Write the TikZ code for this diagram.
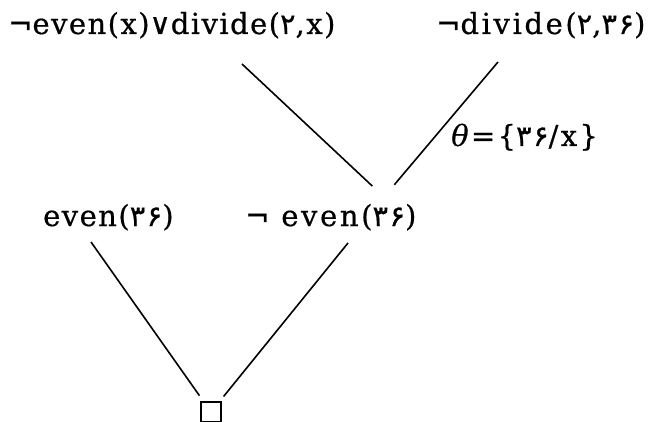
\documentclass[tikz,border=0pt]{standalone}
\usepackage{fontspec}
\setmainfont{DejaVu Serif}[LetterSpace=5, FakeBold=0.6]
\newfontfamily\fanum{DejaVu Sans}[LetterSpace=5, FakeBold=0.6]
\usetikzlibrary{calc}
\newcommand{\fa}[1]{{\fanum #1}}
\newcommand{\nt}{{\fanum ¬}}
\newcommand{\ors}{{\fanum ∨}}

\begin{document}
\begin{tikzpicture}[
    x=1pt, y=-1pt,
    lbl/.style={anchor=base west, inner sep=0pt,
                font=\fontsize{29}{33}\selectfont},
    wide/.style={font=\fontsize{29}{33}\selectfont\addfontfeatures{LetterSpace=#1}},
    link/.style={line width=1.6pt},
    emptybox/.style={draw, line width=1.8pt, minimum size=20pt, inner sep=0pt}
  ]
  \useasboundingbox (0,0) rectangle (650,422);

  % clauses
  \node (c1)    [lbl] at (8,34)    {\nt even(x)\ors divide(\fa{۲},x)};
  \node (c2)    [lbl, wide=9] at (436,34)  {\nt divide(\fa{۲},\fa{۳۶})};
  \node (even)  [lbl] at (43,226)  {even(\fa{۳۶})};
  \node (neven) [lbl, wide=9] at (245,226) {\nt\ even(\fa{۳۶})};
  \node (theta) [lbl, wide=8] at (451,146) {\textit{θ}=\{\fa{۳۶}/x\}};
  \node (empty) [emptybox] at (211,412) {};

  % meeting point above the resolvent
  \coordinate (meet) at ($(neven.base west)+(139,-29)$);

  \draw[link, shorten >=16pt] ($(c1.base west)+(234,30)$) -- (meet);
  \draw[link, shorten >=16pt] ($(c2.base west)+(62,28)$)  -- (meet);
  \draw[link, shorten >=20pt] ($(even.base west)+(48,16)$)   -- (empty.center);
  \draw[link, shorten >=20pt] ($(neven.base west)+(103,17)$) -- (empty.center);
\end{tikzpicture}
\end{document}
